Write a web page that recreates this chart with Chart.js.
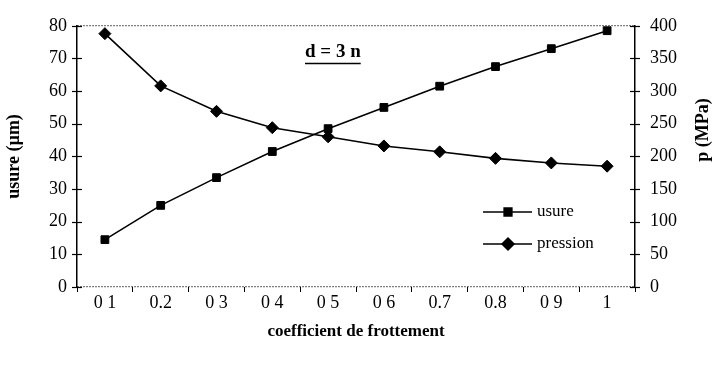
<!DOCTYPE html>
<html>
<head>
<meta charset="utf-8">
<script src="https://cdn.jsdelivr.net/npm/chart.js@4/dist/chart.umd.min.js"></script>
<style>
  html, body { margin: 0; padding: 0; background: #fff; }
  #wrap { width: 717px; height: 365px; }
</style>
</head>
<body>
<div id="wrap"><canvas id="chart" width="717" height="365"></canvas></div>
<script>
(function() {
    'use strict';

    var coefLabels = ['0 1', '0.2', '0 3', '0 4', '0 5', '0 6', '0.7', '0.8', '0 9', '1'];
    var usureValues = [14.5, 25, 33.5, 41.5, 48.5, 55, 61.5, 67.5, 73, 78.5];
    var pressionValues = [388, 308, 269, 244, 230, 216, 207, 197, 190, 185];

    var serif = 'Liberation Serif';
    var ink = '#000';

    // cross-shaped tick marks on both value axes, legend and the "d = 3 n" note
    var decorations = {
        id: 'decorations',
        afterDraw: function(chart) {
            var ctx = chart.ctx;
            var area = chart.chartArea;
            var yl = chart.scales.y;
            var yr = chart.scales.y1;

            ctx.save();
            ctx.strokeStyle = ink;
            ctx.lineWidth = 1.2;
            yl.ticks.forEach(function(t) {
                var py = Math.round(yl.getPixelForValue(t.value)) + 0.5;
                ctx.beginPath();
                ctx.moveTo(area.left - 5, py);
                ctx.lineTo(area.left + 5, py);
                ctx.stroke();
            });
            yr.ticks.forEach(function(t) {
                var py = Math.round(yr.getPixelForValue(t.value)) + 0.5;
                ctx.beginPath();
                ctx.moveTo(area.right - 5, py);
                ctx.lineTo(area.right + 5, py);
                ctx.stroke();
            });

            // right axis title, reading bottom to top
            ctx.fillStyle = ink;
            ctx.font = 'bold 18px "' + serif + '"';
            ctx.textAlign = 'center';
            ctx.textBaseline = 'middle';
            ctx.save();
            ctx.translate(703, 130);
            ctx.rotate(-Math.PI / 2);
            ctx.fillText('p (MPa)', 0, 0);
            ctx.restore();

            // note
            ctx.font = 'bold 19px "' + serif + '"';
            ctx.textAlign = 'left';
            var note = 'd = 3 n';
            var w = ctx.measureText(note).width;
            ctx.fillText(note, 305, 52);
            ctx.lineWidth = 1.6;
            ctx.beginPath();
            ctx.moveTo(305, 63.5);
            ctx.lineTo(305 + w, 63.5);
            ctx.stroke();

            // legend
            ctx.font = '17px "' + serif + '"';
            chart.data.datasets.forEach(function(ds, i) {
                var ly = 212 + i * 32;
                ctx.lineWidth = 1.5;
                ctx.beginPath();
                ctx.moveTo(483, ly);
                ctx.lineTo(532, ly);
                ctx.stroke();
                Chart.helpers.drawPoint(ctx, {
                    pointStyle: ds.pointStyle,
                    radius: ds.pointRadius,
                    borderWidth: 1
                }, 508, ly);
                ctx.fill();
                ctx.fillText(ds.label, 537, ly);
            });
            ctx.restore();
        }
    };

    new Chart(document.getElementById('chart'), {
        type: 'line',
        data: {
            labels: coefLabels,
            datasets: [
                {
                    label: 'usure',
                    data: usureValues,
                    yAxisID: 'y',
                    borderColor: ink,
                    backgroundColor: ink,
                    borderWidth: 1.6,
                    pointStyle: 'rect',
                    pointRadius: 5.5,
                    pointBorderWidth: 1,
                    tension: 0
                },
                {
                    label: 'pression',
                    data: pressionValues,
                    yAxisID: 'y1',
                    borderColor: ink,
                    backgroundColor: ink,
                    borderWidth: 1.6,
                    pointStyle: 'rectRot',
                    pointRadius: 6,
                    pointBorderWidth: 1,
                    tension: 0
                }
            ]
        },
        options: {
            responsive: false,
            animation: false,
            layout: { padding: { top: 21, left: 0, right: 0, bottom: 0 } },
            plugins: {
                legend: { display: false },
                tooltip: { enabled: false }
            },
            scales: {
                x: {
                    offset: true,
                    grid: {
                        offset: true,
                        drawOnChartArea: false,
                        color: ink,
                        tickLength: 5
                    },
                    border: { display: false },
                    ticks: {
                        color: ink,
                        font: { family: serif, size: 18 },
                        padding: 0,
                        maxRotation: 0
                    },
                    title: {
                        display: true,
                        text: 'coefficient de frottement',
                        color: ink,
                        font: { family: serif, size: 17, weight: 'bold' },
                        padding: { top: 0, bottom: 23 }
                    },
                    afterFit: function(scale) { scale.height = 78; }
                },
                y: {
                    position: 'left',
                    min: 0,
                    max: 80,
                    ticks: {
                        stepSize: 10,
                        color: ink,
                        font: { family: serif, size: 18 },
                        padding: 10
                    },
                    grid: {
                        drawTicks: false,
                        color: function(c) {
                            return (c.tick && (c.tick.value === 0 || c.tick.value === 80)) ? ink : 'rgba(0,0,0,0)';
                        },
                        lineWidth: 1.2
                    },
                    // dash here applies to the top and bottom grid lines
                    border: { display: true, color: ink, width: 1.5, dash: [1, 2] },
                    title: {
                        display: true,
                        text: 'usure (\u00b5m)',
                        color: ink,
                        font: { family: serif, size: 18, weight: 'bold' },
                        padding: { top: 4, bottom: 0 }
                    },
                    afterFit: function(scale) { scale.width = 77; }
                },
                y1: {
                    position: 'right',
                    min: 0,
                    max: 400,
                    ticks: {
                        stepSize: 50,
                        color: ink,
                        font: { family: serif, size: 18 },
                        padding: 15
                    },
                    grid: { drawOnChartArea: false, drawTicks: false },
                    border: { display: true, color: ink, width: 1.5 },
                    afterFit: function(scale) { scale.width = 82; }
                }
            }
        },
        plugins: [decorations]
    });
})();
</script>
</body>
</html>
